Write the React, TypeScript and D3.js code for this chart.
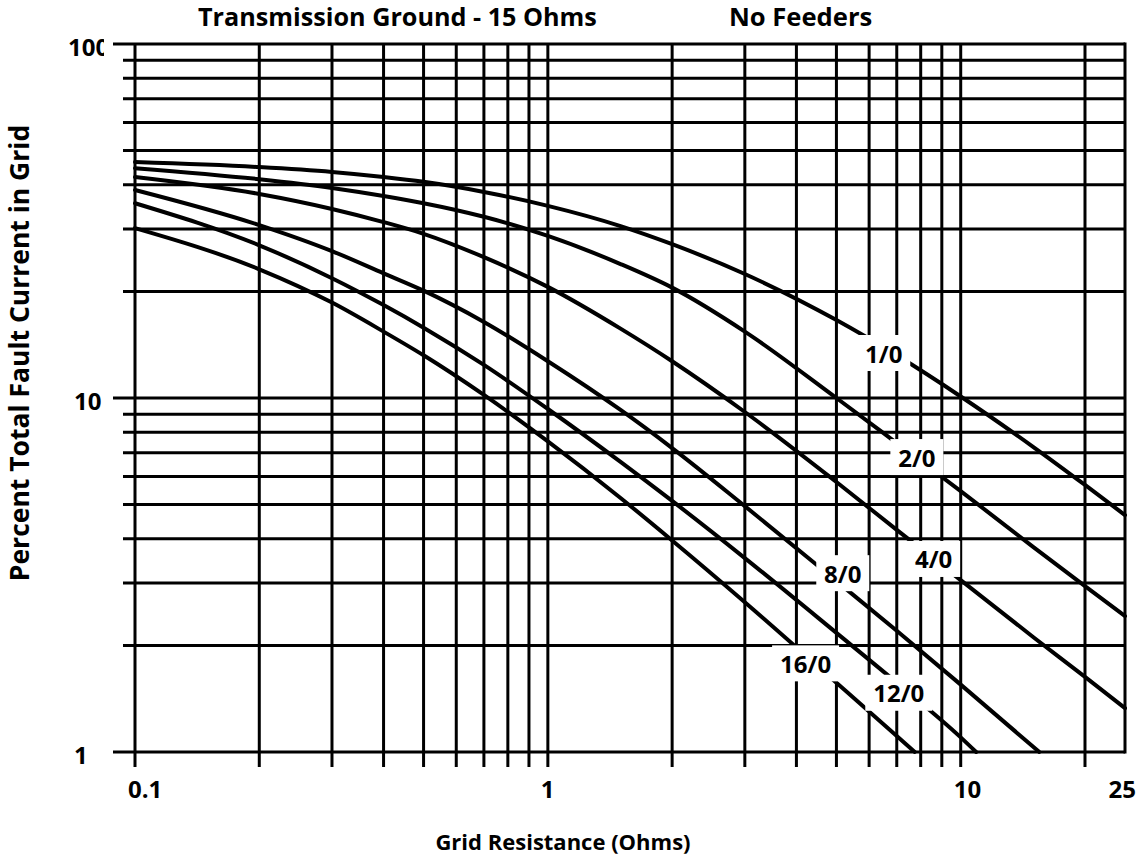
import * as d3 from "d3";

const W = 1140;
const H = 855;
const margin = { top: 44, right: 15, bottom: 103, left: 135 };

// axis ticks
const xTickLabels = [0.1, 1, 10, 25];
const yTickLabels = [1, 10, 100];

// grid resistance (ohms) sample points
const resist = [0.1, 0.2, 0.3, 0.4, 0.5, 0.7, 1, 1.5, 2, 3, 5, 7, 10, 15, 20, 25];

// percent of total fault current in grid
const pct1_0 = [46.4, 44.9, 43.5, 42.1, 40.8, 38.2, 34.9, 30.6, 27.2, 22.4, 16.6, 13.2, 10.1, 7.27, 5.68, 4.67];
const pct2_0 = [44.6, 41.5, 39.2, 37.2, 35.5, 32.5, 28.7, 23.9, 20.5, 15.4, 10.0, 7.46, 5.46, 3.79, 2.94, 2.42];
const pct4_0 = [42.1, 37.7, 34.2, 31.4, 29.1, 25.0, 20.6, 15.7, 12.7, 9.13, 5.79, 4.24, 3.06, 2.11, 1.63, 1.33];
const res8_0 = [0.1, 0.2, 0.3, 0.4, 0.5, 0.7, 1, 1.5, 2, 3, 5, 7, 10, 15.5];
const pct8_0 = [38.7, 30.8, 26.0, 22.5, 20.1, 16.4, 12.7, 9.25, 7.22, 4.95, 3.04, 2.2, 1.55, 1.0];
const res12_0 = [0.1, 0.2, 0.3, 0.4, 0.5, 0.7, 1, 1.5, 2, 3, 5, 7, 10, 10.9];
const pct12_0 = [35.5, 27.0, 21.8, 18.3, 15.8, 12.4, 9.31, 6.6, 5.12, 3.53, 2.17, 1.57, 1.1, 1.0];
const res16_0 = [0.1, 0.2, 0.3, 0.4, 0.5, 0.7, 1, 1.5, 2, 3, 5, 7, 7.74];
const pct16_0 = [30.2, 23.1, 18.6, 15.4, 13.2, 10.2, 7.54, 5.22, 3.96, 2.65, 1.57, 1.11, 1.0];

// curve names and where their labels sit (in data units)
const names = ["1/0", "2/0", "4/0", "8/0", "12/0", "16/0"];
const labelAt = [
  [6.51, 13.4],
  [7.83, 6.81],
  [8.6, 3.51],
  [5.18, 3.2],
  [7.08, 1.47],
  [4.21, 1.78],
];

const seriesX = [resist, resist, resist, res8_0, res12_0, res16_0];
const seriesY = [pct1_0, pct2_0, pct4_0, pct8_0, pct12_0, pct16_0];

const font = "'Open Sans', 'DejaVu Sans', sans-serif";

export default function App() {
  const x = d3.scaleLog().domain([0.1, 25]).range([margin.left, W - margin.right]);
  const y = d3.scaleLog().domain([1, 100]).range([H - margin.bottom, margin.top]);

  const xGrid = x.ticks();
  const yGrid = y.ticks();
  const isMajor = (v: number) => Math.abs(Math.log10(v) - Math.round(Math.log10(v))) < 1e-9;

  const line = d3
    .line<[number, number]>()
    .x((d) => x(d[0]))
    .y((d) => y(d[1]))
    .curve(d3.curveMonotoneX);

  const bottom = H - margin.bottom;
  const right = W - margin.right;

  return (
    <>
      <style>{`body{margin:0;background:#fff}`}</style>
      <svg width={W} height={H} style={{ display: "block" }}>
        <defs>
          <clipPath id="lbl100">
            <rect x={0} y={0} width={104} height={H} />
          </clipPath>
        </defs>
        <rect width={W} height={H} fill="#fff" />

        {/* vertical grid, each one pokes below the frame as a tick */}
        {xGrid.map((v, i) => (
          <line key={"vx" + i} x1={x(v)} x2={x(v)} y1={margin.top} y2={bottom + 15} stroke="#000" strokeWidth={3} />
        ))}
        <line x1={right} x2={right} y1={margin.top - 1.5} y2={bottom + 1.5} stroke="#000" strokeWidth={3} />

        {/* horizontal grid */}
        {yGrid.map((v, i) => (
          <line
            key={"hy" + i}
            x1={isMajor(v) ? 113 : 123}
            x2={right}
            y1={y(v)}
            y2={y(v)}
            stroke="#000"
            strokeWidth={3}
          />
        ))}

        {/* curves */}
        {seriesX.map((xs, i) => {
          const pts = xs.map((r, j) => [r, seriesY[i][j]] as [number, number]);
          return <path key={"c" + i} d={line(pts) || ""} fill="none" stroke="#000" strokeWidth={4} strokeLinecap="round" />;
        })}

        {/* curve labels with white boxes */}
        {names.map((n, i) => {
          const cx = x(labelAt[i][0]);
          const cy = y(labelAt[i][1]);
          const w = n.length * 14 + 11;
          return (
            <g key={"l" + i}>
              <rect x={cx - w / 2} y={cy - 18} width={w} height={36} fill="#fff" />
              <text x={cx} y={cy} textAnchor="middle" dominantBaseline="central" fontFamily={font} fontWeight="bold" fontSize={24}>
                {n}
              </text>
            </g>
          );
        })}

        {/* y tick labels */}
        {yTickLabels.map((v) => (
          <text
            key={"yt" + v}
            x={v === 100 ? 68 : 74}
            y={y(v) + 2}
            dominantBaseline="central"
            fontFamily={font}
            fontWeight="bold"
            fontSize={24}
            clipPath={v === 100 ? "url(#lbl100)" : undefined}
          >
            {v}
          </text>
        ))}

        {/* x tick labels */}
        {xTickLabels.map((v, i) => (
          <text
            key={"xt" + v}
            x={i === xTickLabels.length - 1 ? W - 4 : x(v) - 7}
            y={bottom + 46}
            textAnchor={i === xTickLabels.length - 1 ? "end" : "start"}
            fontFamily={font}
            fontWeight="bold"
            fontSize={24}
          >
            {v}
          </text>
        ))}

        {/* titles */}
        <text x={198} y={26} fontFamily={font} fontWeight="bold" fontSize={25.2}>
          Transmission Ground - 15 Ohms
        </text>
        <text x={729} y={26} fontFamily={font} fontWeight="bold" fontSize={25.6}>
          No Feeders
        </text>
        <text x={563} y={850} textAnchor="middle" fontFamily={font} fontWeight="bold" fontSize={22}>
          Grid Resistance (Ohms)
        </text>
        <text
          transform={`translate(29,${353}) rotate(-90)`}
          textAnchor="middle"
          fontFamily={font}
          fontWeight="bold"
          fontSize={26.5}
        >
          Percent Total Fault Current in Grid
        </text>
      </svg>
    </>
  );
}
